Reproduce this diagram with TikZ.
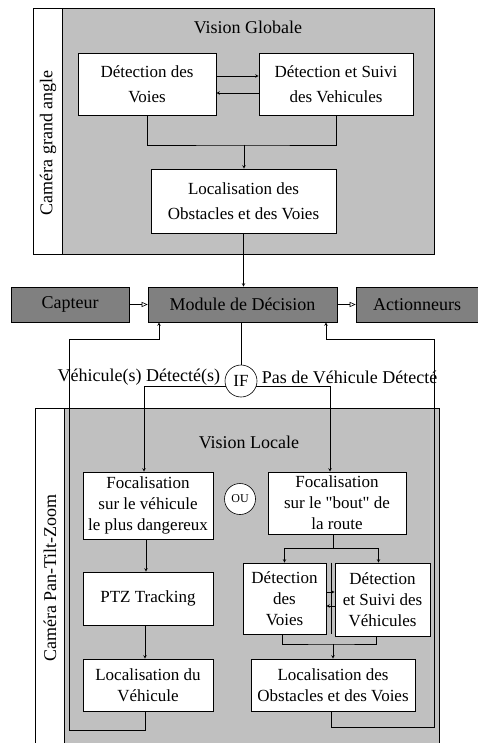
\documentclass[tikz,border=0pt]{standalone}
\usepackage{fontspec}
\setmainfont{Liberation Serif}[Ligatures=TeXOff]
\usetikzlibrary{arrows.meta,positioning}
\definecolor{panel}{HTML}{C0C0C0}
\definecolor{darkpanel}{HTML}{808080}

\begin{document}
\begin{tikzpicture} [x = 1pt, y = -1pt, >= stealth, line width = 0.6pt,
        box/.style = {draw, fill=white, align=center, inner sep=0pt, font=\fontsize{17}{21}\selectfont},
        darkbox/.style = {draw, fill=darkpanel, minimum height=35pt, inner sep=0pt, font=\fontsize{18}{21}\selectfont},
        title/.style = {font=\fontsize{18}{21}\selectfont},
        test/.style = {draw, circle, fill=white, inner sep=0pt, minimum size=32pt},
        open/.style = {-{Triangle[open, length=6pt, width=5pt]}}]
        \clip (0,0) rectangle (478,743);

        % vision globale
        \filldraw [fill=panel] (33,8) rectangle (434,254);
        \filldraw [fill=white] (33,8) rectangle (62,254);
        \node [title, rotate=90] (cam1) at (48,143) {Caméra grand angle};
        \node [title] (vg) at (248,27) {Vision Globale};

        \node [box, minimum width=138pt, minimum height=62pt] (dv1) at (147,84) {Détection des\\[4pt]Voies};
        \node [box, minimum width=154pt, minimum height=62pt] (ds1) at (336,84) {Détection et Suivi\\[4pt]des Vehicules};
        \node [box, minimum width=185pt, minimum height=64pt] (loc1) at (243.5,201) {Localisation des\\[4pt]Obstacles et des Voies};

        \draw [->] ([yshift=8pt]dv1.east) -- ([yshift=8pt]ds1.west);
        \draw [->] ([yshift=-9pt]ds1.west) -- ([yshift=-9pt]dv1.east);
        \coordinate (j1) at (244,145);
        \draw (dv1.south) |- (j1) -| (ds1.south);
        \draw [->] (j1) -- (loc1.north -| j1);

        % decision
        \node [darkbox, minimum width=118pt] (capteur) at (70,304.5) {Capteur};
        \node [darkbox, minimum width=189pt] (module) at (242.5,304.5) {Module de Décision};
        \node [darkbox, minimum width=122pt] (action) at (417,304.5) {Actionneurs};

        \draw [->] (loc1.south) -- (loc1.south |- module.north);
        \draw [open] (capteur) -- (module);
        \draw [open] (module) -- (action);

        % vision locale
        \filldraw [fill=panel] (35,408) rectangle (439,760);
        \filldraw [fill=white] (35,408) rectangle (64,760);
        \node [title, rotate=90] (cam2) at (50,578) {Caméra Pan-Tilt-Zoom};
        \node [title] (vl) at (249,442) {Vision Locale};

        \node [test, font=\fontsize{17}{21}\selectfont] (if) at (241,381) {IF};
        \node [title, left=1pt of if, yshift=4pt] (yes) {Véhicule(s) Détecté(s)};
        \node [title, right=1pt of if, yshift=4pt] (no) {Pas de Véhicule Détecté};
        \draw (module.south -| if) -- (if);

        \node [box, minimum width=130pt, minimum height=67pt] (foc1) at (148,505.5) {Focalisation\\sur le véhicule\\le plus dangereux};
        \node [box, minimum width=138pt, minimum height=62pt] (foc2) at (337,503) {Focalisation\\sur le "bout" de\\la route};
        \node [test, minimum size=31pt, font=\fontsize{12}{14}\selectfont] (ou) at (240,499) {OU};

        \draw [->] (if.200) -| ([xshift=-4pt]foc1.north);
        \draw [->] (if.-20) -| ([xshift=-7pt]foc2.north);

        \node [box, minimum width=130pt, minimum height=53pt] (ptz) at (148,598.5) {PTZ Tracking};
        \node [box, minimum width=130pt, minimum height=52pt] (locv) at (148,685) {Localisation du\\Véhicule};
        \draw [->] ([xshift=-2pt]foc1.south) -- ([xshift=-2pt]ptz.north);
        \draw [->] ([xshift=-3pt]ptz.south) -- ([xshift=-3pt]locv.north);

        \node [box, minimum width=83pt, minimum height=71pt] (dv2) at (284.5,598.5) {Détection\\des\\Voies};
        \node [box, minimum width=95pt, minimum height=73pt] (ds2) at (382.5,599.5) {Détection\\et Suivi des\\Véhicules};
        \node [box, minimum width=164pt, minimum height=52pt] (loc2) at (333,685) {Localisation des\\Obstacles et des Voies};

        \coordinate (j2) at (333,548);
        \draw (foc2.south -| j2) -- (j2);
        \draw [->] (j2) -| (dv2.north);
        \draw [->] ([xshift=-4pt]j2 -| ds2.north) -- ([xshift=-4pt]ds2.north);
        \draw (j2) -- ([xshift=-4pt]j2 -| ds2.north);
        \draw ([xshift=5pt]dv2.north east) -- ([xshift=5pt]dv2.south east);
        \draw [->] ([yshift=6.5pt]dv2.east) -- ([yshift=7.5pt]ds2.west);
        \draw [->] ([yshift=-6.5pt]ds2.west) -- ([yshift=-7.5pt]dv2.east);
        \coordinate (j3) at (333,644);
        \draw ([xshift=-2pt]dv2.south) |- (j3) -| ([xshift=-6pt]ds2.south);
        \draw [->] (j3) -- (loc2.north -| j3);

        % retours vers le module
        \coordinate (l1) at (69,730);
        \coordinate (l2) at (69,339);
        \coordinate (r1) at (434,727);
        \coordinate (r2) at (434,339);
        \draw [->] ([xshift=-3pt]locv.south) |- (l1) -- (l2) -| ([xshift=-83.5pt]module.south);
        \draw [->] ([xshift=-2pt]loc2.south) |- (r1) -- (r2) -| ([xshift=83.5pt]module.south);
    \end{tikzpicture}
\end{document}
